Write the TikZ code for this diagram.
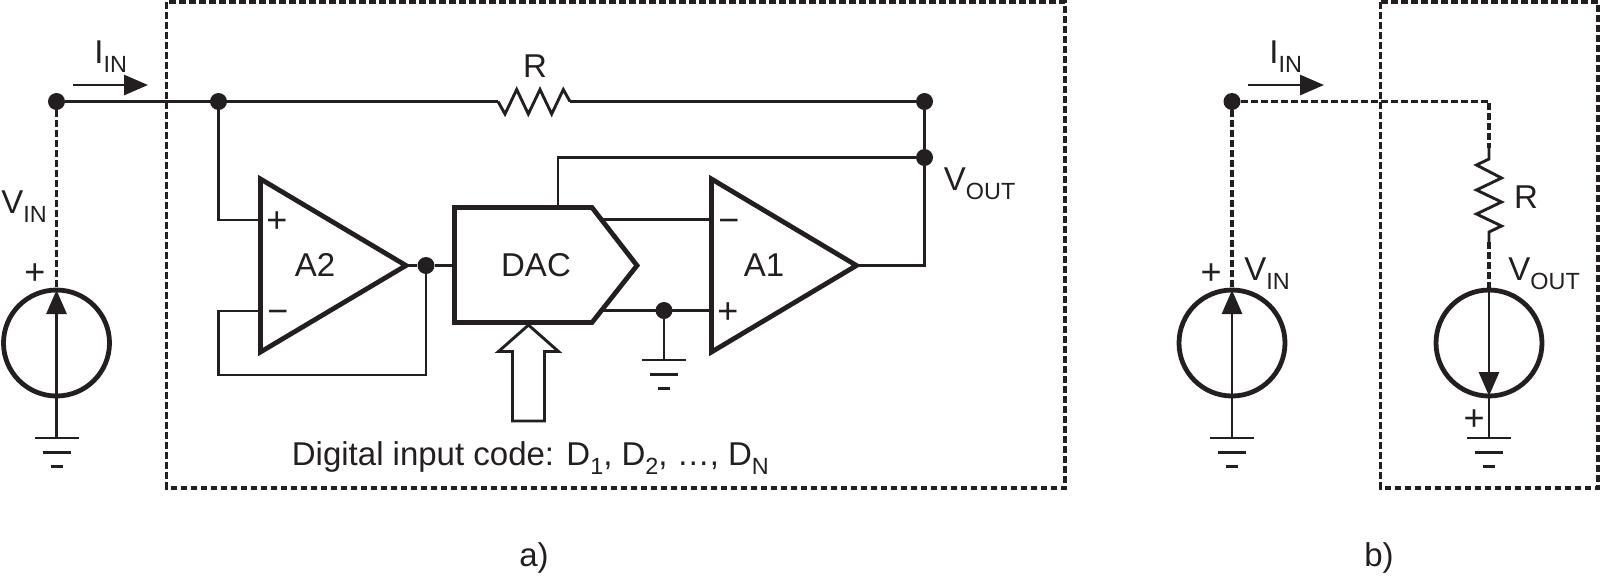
\documentclass[tikz,border=0pt]{standalone}
\usepackage{fontspec}
\setmainfont{Liberation Sans}
\usetikzlibrary{arrows.meta}
\newcommand{\subtxt}[1]{\raisebox{-0.3em}{\fontsize{11.7}{11.7}\selectfont #1}}
\tikzset{
    wire/.style = {line width = 1.45pt, color = inkc},
    dashwire/.style = {line width = 1.7pt, color = inkc, dash pattern = on 3.3pt off 1.7pt},
    thick outline/.style = {line width = 2.4pt, color = inkc, line join = miter},
    dot/.style = {circle, fill = inkc, inner sep = 0pt, minimum size = 8.5pt},
    label/.style = {inner sep = 0pt, font = \fontsize{16.5}{16.5}\selectfont, text = inkc},
    sign/.style = {inner sep = 0pt, font = \fontsize{18}{18}\selectfont, text = inkc},
    flow/.style = {-{Triangle[length = 12pt, width = 10pt]}, line width = 1.45pt, color = inkc}
}
\definecolor{inkc}{RGB}{35,31,32}
\begin{document}
\begin{tikzpicture}[x = 0.5pt, y = -0.5pt]
    \useasboundingbox (0, 0) rectangle (1600, 575);

    % part a
    \draw[dashwire] (166.5, 2) rectangle (1065, 488);
    \node[dot] (inA) at (56.5, 101.5) {};
    \node[dot] (topA) at (218.5, 101.5) {};
    \node[dot] (topB) at (924.5, 101.5) {};
    \node[dot] (fbk) at (924.5, 157.5) {};
    \node[dot] (outA) at (426, 265.5) {};
    \node[dot] (gndA) at (664, 310.5) {};
    \coordinate (rl) at (498, 101.5);
    \coordinate (rr) at (570, 101.5);
    \draw[wire] (inA) -- (rl);
    \draw[wire, line join = miter] (rl) -- (505, 114) -- (516.7, 89.5) -- (528.3, 114) -- (540, 89.5)
        -- (551.7, 114) -- (563.3, 89.5) -- (rr);
    \draw[wire] (rr) -- (topB);
    \draw[wire] (topB) -- (fbk);
    \coordinate (srcTopA) at (56.5, 290);
    \draw[dashwire] (inA) -- (srcTopA);
    \draw[thick outline] (56.5, 343) circle (53);
    \coordinate (gA) at (56.5, 438);
    \draw[wire] (gA) -- ++(0, -95);
    \draw[flow] (56.5, 345) -- (srcTopA);
    \draw[flow] (73, 85) -- (148, 85);

    % A2
    \coordinate (a2top) at (260.5, 179);
    \coordinate (a2bot) at (260.5, 352);
    \coordinate (a2out) at (406, 265.5);
    \draw[wire] (topA) |- (260.5, 220);
    \draw[wire] (260.5, 311) -| (218.5, 375) -| (outA);
    \draw[wire] (a2out) -- (outA) -- (454.5, 265.5);
    \draw[thick outline] (a2top) -- (a2out) -- (a2bot) -- cycle;
    \node[label] (a2name) at (315, 265) {A2};
    \node[sign] (a2p) at (277, 222.5) {+};
    \node[sign] (a2m) at (278, 317) {\textminus};

    % DAC
    \coordinate (dacTL) at (454.5, 207.5);
    \coordinate (dacBL) at (454.5, 322.5);
    \coordinate (dacTR) at (592, 207.5);
    \coordinate (dacBR) at (592, 322.5);
    \coordinate (dacTip) at (637, 265.5);
    \draw[wire] (558, 207.5) |- (fbk);
    \draw[wire] (603, 219.5) -- (711.5, 219.5);
    \draw[wire] (603, 310.5) -- (711.5, 310.5);
    \draw[thick outline] (dacTL) -- (dacTR) -- (dacTip) -- (dacBR) -- (dacBL) -- cycle;
    \node[label] (dacname) at (536, 265) {DAC};
    \draw[wire, line join = miter] (528.5, 325) -- (558.5, 351.5) -- (544.5, 351.5) -- (544.5, 421)
        -- (512.5, 421) -- (512.5, 351.5) -- (498.5, 351.5) -- cycle;
    \node[label, anchor = base west] (code) at (291.5, 465) {Digital input code: D\subtxt{1}, D\subtxt{2}, \ldots, D\subtxt{N}};

    % A1
    \coordinate (a1top) at (711.5, 179);
    \coordinate (a1bot) at (711.5, 352);
    \coordinate (a1out) at (856.5, 265.5);
    \draw[wire] (a1out) -| (fbk);
    \draw[thick outline] (a1top) -- (a1out) -- (a1bot) -- cycle;
    \node[label] (a1name) at (764, 265.5) {A1};
    \node[sign] (a1p) at (728, 313.5) {+};
    \node[sign] (a1m) at (729, 225.5) {\textminus};

    % grounds
    \foreach \gx/\gy in {56.5/438, 664/360, 1232/438, 1489/438} {
        \draw[wire] (\gx - 22, \gy) -- (\gx + 22, \gy);
        \draw[wire] (\gx - 14, \gy + 14.5) -- (\gx + 14, \gy + 14.5);
        \draw[wire] (\gx - 6, \gy + 28.5) -- (\gx + 6, \gy + 28.5);
    }
    \draw[wire] (gndA) -- (664, 360);

    \node[label, anchor = base west] (iinA) at (94, 63) {I\subtxt{IN}};
    \node[label, anchor = base west] (vinA) at (1, 213) {V\subtxt{IN}};
    \node[sign] (plusA) at (35, 274.5) {+};
    \node[label] (rnameA) at (535, 66) {R};
    \node[label, anchor = base west] (voutA) at (943.5, 190) {V\subtxt{OUT}};
    \node[label] (capA) at (534, 558) {a)};

    % part b
    \draw[dashwire] (1380.5, 2) rectangle (1598, 488);
    \node[dot] (inB) at (1232, 101.5) {};
    \coordinate (cornerB) at (1489, 101.5);
    \coordinate (rt) at (1489, 148);
    \coordinate (srcTopB) at (1232, 290);
    \coordinate (srcTopC) at (1489, 290);
    \coordinate (gB) at (1232, 438);
    \coordinate (gC) at (1489, 438);
    \draw[dashwire] (inB) -- (cornerB) -- (rt);
    \draw[dashwire] (inB) -- (srcTopB);
    \draw[wire, line join = miter] (rt) -- ++(0, 11) -- ++(-12.5, 6) -- ++(25, 13) -- ++(-25, 12)
        -- ++(25, 12) -- ++(-25, 12) -- ++(25, 12) -- ++(-12.5, 6) -- (1489, 242);
    \draw[dashwire] (1489, 242) -- (srcTopC);
    \draw[thick outline] (1232, 343) circle (53);
    \draw[thick outline] (1489, 343) circle (53);
    \draw[wire] (gB) -- ++(0, -95);
    \draw[flow] (1232, 345) -- (srcTopB);
    \draw[wire] (gC) -- (1489, 390);
    \draw[flow] (srcTopC) -- (1489, 396);
    \draw[flow] (1248, 85) -- (1324, 85);

    \node[label, anchor = base west] (iinB) at (1269, 63) {I\subtxt{IN}};
    \node[label, anchor = base west] (vinB) at (1244, 280) {V\subtxt{IN}};
    \node[sign] (plusB) at (1211, 274.5) {+};
    \node[label] (rnameB) at (1526, 197) {R};
    \node[label, anchor = base west] (voutB) at (1508, 280) {V\subtxt{OUT}};
    \node[sign] (plusC) at (1474, 420.5) {+};
    \node[label] (capB) at (1379, 558) {b)};
\end{tikzpicture}
\end{document}
